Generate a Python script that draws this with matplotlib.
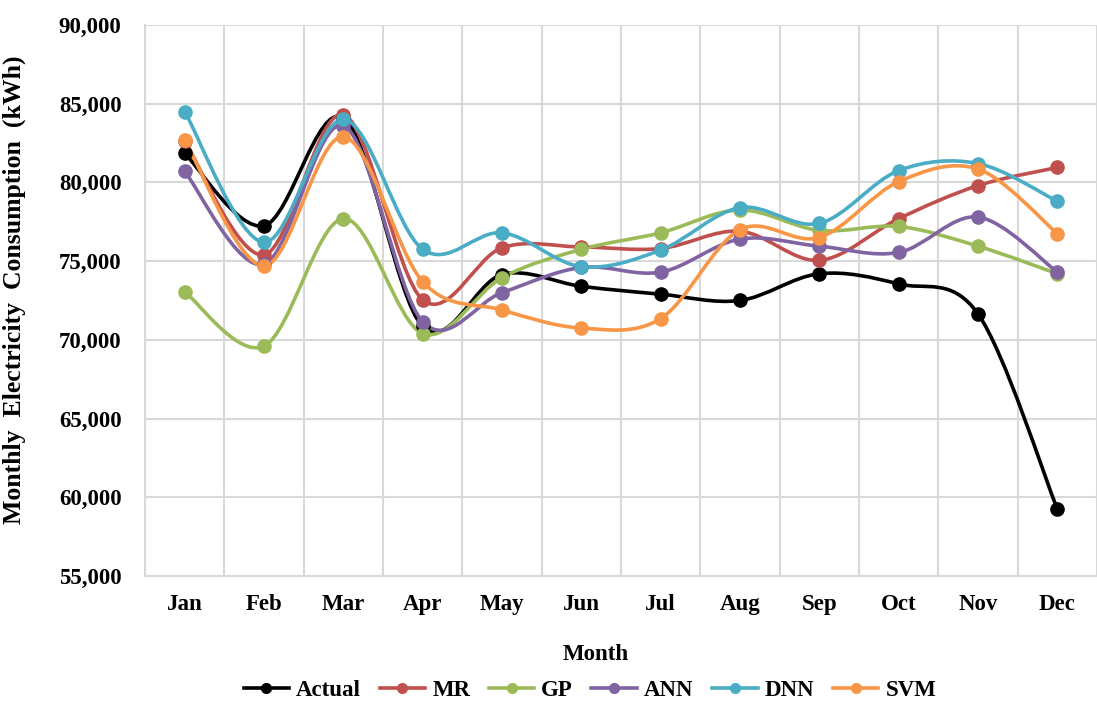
"""
Monthly electricity consumption: actual values against five model forecasts.
"""

import matplotlib.pyplot as plt
import numpy as np
from matplotlib.lines import Line2D
from matplotlib.patches import PathPatch
from matplotlib.path import Path
from matplotlib.ticker import FuncFormatter

plt.rcParams["font.family"] = ["Liberation Serif", "DejaVu Serif"]
plt.rcParams["font.weight"] = "bold"

months = ["Jan", "Feb", "Mar", "Apr", "May", "Jun",
          "Jul", "Aug", "Sep", "Oct", "Nov", "Dec"]

actual = [81850, 77250, 84100, 70850, 74150, 73400,
          72900, 72500, 74200, 73550, 71650, 59250]
mr = [82600, 75400, 84300, 72550, 75850, 75900,
      75800, 76900, 75050, 77700, 79800, 80950]
gp = [73050, 69600, 77700, 70400, 73950, 75750,
      76800, 78250, 76950, 77200, 75950, 74200]
ann = [80700, 74800, 83600, 71150, 73000, 74600,
       74300, 76400, 75950, 75550, 77800, 74300]
dnn = [84500, 76200, 84000, 75750, 76800, 74650,
       75700, 78400, 77400, 80750, 81200, 78800]
svm = [82700, 74700, 82900, 73700, 71900, 70750,
       71350, 77000, 76500, 80050, 80850, 76750]

series = [
    ("Actual", actual, "#000000"),
    ("MR", mr, "#C0504D"),
    ("GP", gp, "#9BBB59"),
    ("ANN", ann, "#8064A2"),
    ("DNN", dnn, "#4BACC6"),
    ("SVM", svm, "#F79646"),
]


def smooth_path(x, y):
    """Bezier path through the points, like Excel's smoothed line."""
    pts = np.column_stack([x, y]).astype(float)
    n = len(pts)
    verts = [pts[0]]
    codes = [Path.MOVETO]
    for i in range(n - 1):
        p0 = pts[max(i - 1, 0)]
        p1 = pts[i]
        p2 = pts[i + 1]
        p3 = pts[min(i + 2, n - 1)]
        c1 = p1 + (p2 - p0) / 6.0
        c2 = p2 - (p3 - p1) / 6.0
        verts += [c1, c2, p2]
        codes += [Path.CURVE4] * 3
    return Path(verts, codes)


fig = plt.figure(figsize=(10.97, 7.02), dpi=100)
ax = fig.add_axes([0.1322, 0.1795, 0.8678, 0.7849])

x = np.arange(len(months))
for name, values, color in series:
    patch = PathPatch(smooth_path(x, values), facecolor="none",
                      edgecolor=color, lw=2.6, capstyle="round",
                      joinstyle="round")
    ax.add_patch(patch)
    ax.plot(x, values, linestyle="none", marker="o", markersize=9.5,
            color=color)

ax.set_xlim(-0.5, 11.365)
ax.set_ylim(55000, 90000)
ax.set_yticks(np.arange(55000, 90001, 5000))
ax.yaxis.set_major_formatter(FuncFormatter(lambda v, _: f"{int(v):,}"))
ax.set_xticks(x)
ax.set_xticklabels(months)
ax.set_xticks(np.arange(-0.5, 11.6, 1), minor=True)

# Grid: horizontal at value ticks, vertical between categories
ax.grid(axis="y", which="major", color="#d9d9d9", lw=1.5)
ax.grid(axis="x", which="minor", color="#d9d9d9", lw=1.5)
ax.grid(axis="x", which="major", visible=False)
ax.set_axisbelow(True)
ax.tick_params(which="both", length=0)
ax.tick_params(axis="x", pad=13, labelsize=16.5)
ax.tick_params(axis="y", pad=17, labelsize=16.5)
for side in ["top", "right"]:
    ax.spines[side].set_visible(False)
for side in ["left", "bottom"]:
    ax.spines[side].set_color("#d9d9d9")
    ax.spines[side].set_linewidth(1.5)

ax.set_xlabel("Month", fontsize=16.5, fontweight="bold")
ax.xaxis.set_label_coords(0.473, -0.124)
ax.set_ylabel("Monthly  Electricity  Consumption  (kWh)", fontsize=18.5,
              fontweight="bold")
ax.yaxis.set_label_coords(-0.125, 0.52)

handles = [
    Line2D([], [], color=color, lw=2.6, marker="o", markersize=7)
    for _, _, color in series
]
fig.legend(handles, [name for name, _, _ in series], loc="center left",
           bbox_to_anchor=(0.222, 0.016), ncol=6, frameon=False,
           fontsize=16.5, handlelength=2.0, handletextpad=0.3,
           columnspacing=0.8, borderaxespad=0, borderpad=0)

fig.savefig("out.png", dpi=100)
